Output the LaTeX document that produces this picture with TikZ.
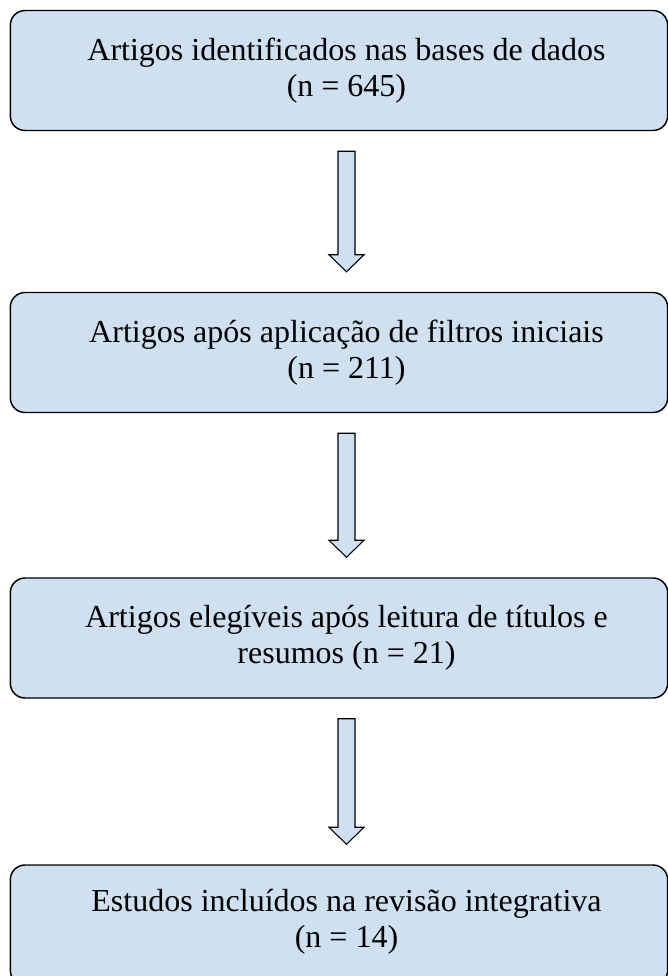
\documentclass[tikz,border=0pt]{standalone}
\usepackage{fontspec}
\setmainfont{Liberation Serif}
\usetikzlibrary{calc}
\definecolor{azulclaro}{RGB}{207,224,241}
\begin{document}
\begin{tikzpicture}[x=0.75pt,y=-0.75pt,
	etapa/.style={draw=black,line width=1.1pt,fill=azulclaro,rounded corners=11pt,
		minimum width=493pt,minimum height=90pt},
	texto/.style={align=center,font=\fontsize{24}{27}\selectfont},
	seta/.style={draw=black,line width=0.8pt,fill=azulclaro,line join=miter}]
\useasboundingbox (0,0) rectangle (668,976);
\node[etapa] (b1) at (339,70.5) {};
\node[etapa] (b2) at (339,352.5) {};
\node[etapa] (b3) at (339,638) {};
\node[etapa] (b4) at (339,925) {};
\node[texto] (t1) at ($(b1)+(7.5,0)$) {Artigos identificados nas bases de dados\\(n = 645)};
\node[texto] (t2) at ($(b2)+(7.5,0)$) {Artigos após aplicação de filtros iniciais\\(n = 211)};
\node[texto] (t3) at ($(b3)+(7.5,0)$) {Artigos elegíveis após leitura de títulos e\\resumos (n = 21)};
\node[texto] (t4) at ($(b4)+(7.5,-3)$) {Estudos incluídos na revisão integrativa\\(n = 14)};
\foreach \a/\b in {b1/b2,b2/b3,b3/b4}{
	\coordinate (topo) at ($(\a.south)+(7.5,20)$);
	\coordinate (ponta) at ($(\b.north)+(7.5,-20)$);
	\draw[seta] ($(topo)+(-8.5,0)$) -- ($(topo)+(8.5,0)$) -- ($(ponta)+(8.5,-17)$)
		-- ($(ponta)+(17.5,-17)$) -- (ponta) -- ($(ponta)+(-17.5,-17)$)
		-- ($(ponta)+(-8.5,-17)$) -- cycle;
}
\end{tikzpicture}
\end{document}
